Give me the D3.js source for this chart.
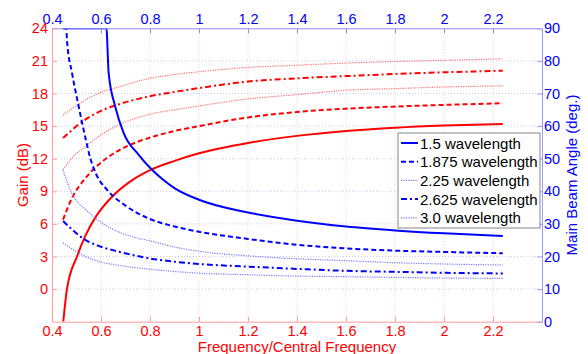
<!DOCTYPE html>
<html>
<head>
<meta charset="utf-8">
<script src="https://cdn.jsdelivr.net/npm/d3@7"></script>
<style>
    body { margin: 0; background: #fff; }
    svg { display: block; font-family: "Liberation Sans", Arial, sans-serif; }
</style>
</head>
<body>
<div id="chart"></div>
<script>
// legend / series names
const seriesLabels = ['1.5 wavelength', '1.875 wavelength', '2.25 wavelength', '2.625 wavelength', '3.0 wavelength'];

// tick values
const freqTicks = [0.4, 0.6, 0.8, 1.0, 1.2, 1.4, 1.6, 1.8, 2.0, 2.2];
const gainTicks = [0, 3, 6, 9, 12, 15, 18, 21, 24];
const angleTicks = [0, 10, 20, 30, 40, 50, 60, 70, 80, 90];

// gain (dB), left axis
const gainFreq15 = [0.446, 0.461, 0.502, 0.536, 0.577, 0.645, 0.713, 0.8, 0.9, 1.0, 1.2, 1.4, 1.6, 1.8, 2.0, 2.24];
const gain15 = [-3, 0, 3.0, 4.9, 6.6, 8.5, 9.8, 10.95, 11.8, 12.5, 13.45, 14.1, 14.55, 14.85, 15.05, 15.2];
const gainFreq1875 = [0.445, 0.482, 0.536, 0.577, 0.62, 0.672, 0.808, 0.9, 1.0, 1.2, 1.4, 1.6, 1.8, 2.0, 2.24];
const gain1875 = [6.4, 8.4, 10.2, 11.2, 12.0, 12.75, 14.0, 14.55, 15.0, 15.8, 16.3, 16.6, 16.8, 16.95, 17.1];
const gainFreq225 = [0.445, 0.487, 0.536, 0.6, 0.672, 0.8, 0.9, 1.0, 1.2, 1.4, 1.6, 1.8, 2.0, 2.24];
const gain225 = [11.0, 12.2, 13.1, 14.2, 15.1, 16.1, 16.5, 16.85, 17.5, 17.9, 18.3, 18.45, 18.6, 18.7];
const gainFreq2625 = [0.445, 0.536, 0.6, 0.672, 0.8, 0.9, 1.0, 1.2, 1.4, 1.6, 1.8, 2.0, 2.24];
const gain2625 = [13.9, 15.6, 16.4, 17.0, 17.75, 18.15, 18.5, 19.1, 19.4, 19.6, 19.8, 19.95, 20.1];
const gainFreq30 = [0.445, 0.536, 0.6, 0.672, 0.8, 0.9, 1.0, 1.2, 1.4, 1.6, 1.8, 2.0, 2.24];
const gain30 = [16.0, 17.4, 18.1, 18.6, 19.4, 19.75, 20.0, 20.4, 20.6, 20.8, 20.95, 21.05, 21.2];

// main beam angle (deg.), right axis
const angleFreq15 = [0.445, 0.623, 0.626, 0.631, 0.658, 0.693, 0.754, 0.808, 0.85, 0.9, 1.0, 1.2, 1.4, 1.6, 1.8, 2.0, 2.24];
const angle15 = [90, 90, 85, 76.5, 66, 57.8, 51.2, 46.6, 43.8, 41.0, 37.4, 33.5, 31.0, 29.2, 28.0, 27.1, 26.3];
const angleFreq1875 = [0.445, 0.458, 0.461, 0.482, 0.509, 0.536, 0.555, 0.58, 0.623, 0.7, 0.8, 0.9, 1.0, 1.2, 1.4, 1.6, 1.8, 2.0, 2.24];
const angle1875 = [90, 90, 86.4, 76.2, 66, 56.5, 50.5, 45.3, 40.6, 35.6, 31.5, 29.2, 27.6, 25.4, 23.6, 22.5, 21.8, 21.4, 21.0];
const angleFreq225 = [0.445, 0.48, 0.54, 0.6, 0.67, 0.74, 0.8, 0.9, 1.0, 1.2, 1.4, 1.6, 1.8, 2.0, 2.24];
const angle225 = [46.5, 39.5, 34.2, 30.5, 27.6, 25.8, 24.8, 22.9, 21.6, 20.2, 19.3, 18.7, 18.1, 17.7, 17.4];
const angleFreq2625 = [0.445, 0.536, 0.6, 0.672, 0.8, 0.9, 1.0, 1.2, 1.4, 1.6, 1.8, 2.0, 2.24];
const angle2625 = [30.9, 25.1, 23.0, 21.5, 19.4, 18.4, 17.7, 16.9, 16.2, 15.6, 15.3, 15.0, 14.8];
const angleFreq30 = [0.445, 0.536, 0.6, 0.672, 0.8, 0.9, 1.0, 1.2, 1.4, 1.6, 1.8, 2.0, 2.24];
const angle30 = [24.2, 20.0, 18.3, 17.3, 16.1, 15.4, 14.9, 14.4, 14.0, 13.8, 13.6, 13.4, 13.3];

// line styles per series (solid, dashed, dotted, dash-dot, dotted)
const lineStyles = [
    { width: 2, dash: null, fade: false },
    { width: 2, dash: '5,3', fade: false },
    { width: 1.2, dash: '1.2,1.2', fade: true },
    { width: 2, dash: '6,3,2,3', fade: false },
    { width: 1.2, dash: '1.2,1.2', fade: true }
];

const RED = '#ff0000';
const BLUE = '#0000ff';

const width = 588, height = 354;
const margin = { top: 28.3, right: 46, bottom: 32.3, left: 52 };
const plotW = width - margin.left - margin.right;
const plotH = height - margin.top - margin.bottom;

const svg = d3.select('#chart').append('svg')
    .attr('width', width)
    .attr('height', height);

const x = d3.scaleLinear().domain([0.4, 2.4]).range([0, plotW]);
const yGain = d3.scaleLinear().domain([-3, 24]).range([plotH, 0]);
const yAngle = d3.scaleLinear().domain([0, 90]).range([plotH, 0]);

const g = svg.append('g')
    .attr('transform', `translate(${margin.left},${margin.top})`);

svg.append('defs').append('clipPath')
    .attr('id', 'plot-clip')
    .append('rect')
    .attr('width', plotW)
    .attr('height', plotH);

// grid
const grid = g.append('g').attr('class', 'grid');
grid.selectAll('.vgrid')
    .data(freqTicks.filter(d => d > 0.4))
    .enter()
    .append('line')
    .attr('x1', d => x(d)).attr('x2', d => x(d))
    .attr('y1', 0).attr('y2', plotH)
    .attr('stroke', '#ffc4c4')
    .attr('stroke-dasharray', '1,2');
grid.selectAll('.hgrid')
    .data(angleTicks.filter(d => d > 0 && d < 90))
    .enter()
    .append('line')
    .attr('x1', 0).attr('x2', plotW)
    .attr('y1', d => yAngle(d)).attr('y2', d => yAngle(d))
    .attr('stroke', '#c8c8ff')
    .attr('stroke-dasharray', '1,2');

// curves
const lineGen = d3.line()
    .x(d => x(d[0]))
    .curve(d3.curveMonotoneX);

const gainSeries = [
    [gainFreq15, gain15], [gainFreq1875, gain1875], [gainFreq225, gain225],
    [gainFreq2625, gain2625], [gainFreq30, gain30]
];
const angleSeries = [
    [angleFreq15, angle15], [angleFreq1875, angle1875], [angleFreq225, angle225],
    [angleFreq2625, angle2625], [angleFreq30, angle30]
];

const curves = g.append('g').attr('clip-path', 'url(#plot-clip)');

function drawSeries(series, yScale, color, fadeColor) {
    series.forEach(([fr, vals], i) => {
        const st = lineStyles[i];
        const pts = fr.map((f, j) => [f, vals[j]]);
        curves.append('path')
            .datum(pts)
            .attr('fill', 'none')
            .attr('stroke', st.fade ? fadeColor : color)
            .attr('stroke-width', st.width)
            .attr('stroke-dasharray', st.dash)
            .attr('d', lineGen.y(d => yScale(d[1])));
    });
}
drawSeries(gainSeries, yGain, RED, '#ff7070');
drawSeries(angleSeries, yAngle, BLUE, '#7a7aff');

// axes
function styleAxis(sel, color, lineColor) {
    sel.select('.domain').attr('stroke', lineColor);
    sel.selectAll('.tick line').attr('stroke', lineColor);
    sel.selectAll('.tick text')
        .attr('fill', color)
        .style('font-size', '14.5px')
        .style('font-family', '"Liberation Sans", Arial, sans-serif');
}

g.append('g')
    .attr('transform', `translate(0,${plotH})`)
    .call(d3.axisBottom(x).tickValues(freqTicks).tickFormat(d3.format('~g'))
        .tickSize(-5).tickSizeOuter(0).tickPadding(4))
    .call(sel => styleAxis(sel, RED, '#ff9c9c'));

g.append('g')
    .call(d3.axisTop(x).tickValues(freqTicks).tickFormat(d3.format('~g'))
        .tickSize(-5).tickSizeOuter(0).tickPadding(4))
    .call(sel => styleAxis(sel, BLUE, '#8c8cff'));

g.append('g')
    .call(d3.axisLeft(yGain).tickValues(gainTicks)
        .tickSize(-5).tickSizeOuter(0).tickPadding(4))
    .call(sel => styleAxis(sel, RED, '#ff9c9c'));

g.append('g')
    .attr('transform', `translate(${plotW},0)`)
    .call(d3.axisRight(yAngle).tickValues(angleTicks)
        .tickSize(-5).tickSizeOuter(0).tickPadding(2))
    .call(sel => styleAxis(sel, BLUE, '#9c9cff'));

// axis titles
svg.append('text')
    .attr('transform', `translate(28,${margin.top + plotH / 2}) rotate(-90)`)
    .attr('text-anchor', 'middle')
    .attr('fill', RED)
    .style('font-size', '15px')
    .text('Gain (dB)');

svg.append('text')
    .attr('transform', `translate(577,${margin.top + plotH / 2}) rotate(-90)`)
    .attr('text-anchor', 'middle')
    .attr('fill', BLUE)
    .style('font-size', '15px')
    .text('Main Beam Angle (deg.)');

svg.append('text')
    .attr('x', margin.left + plotW / 2)
    .attr('y', 351.5)
    .attr('text-anchor', 'middle')
    .attr('fill', RED)
    .style('font-size', '15px')
    .text('Frequency/Central Frequency');

// legend
const legend = svg.append('g')
    .attr('transform', 'translate(398,133)');
legend.append('rect')
    .attr('width', 142)
    .attr('height', 95)
    .attr('fill', '#fff')
    .attr('stroke', '#858585');

const rows = legend.selectAll('.row')
    .data(seriesLabels)
    .enter()
    .append('g')
    .attr('transform', (d, i) => `translate(0,${10 + i * 18.7})`);

rows.append('line')
    .attr('x1', 3).attr('x2', 20)
    .attr('stroke', (d, i) => lineStyles[i].fade ? '#7a7aff' : BLUE)
    .attr('stroke-width', (d, i) => lineStyles[i].width)
    .attr('stroke-dasharray', (d, i) => lineStyles[i].dash);

rows.append('text')
    .attr('x', 22)
    .attr('y', 5.5)
    .attr('fill', '#000')
    .style('font-size', '15px')
    .text(d => d);
</script>
</body>
</html>
